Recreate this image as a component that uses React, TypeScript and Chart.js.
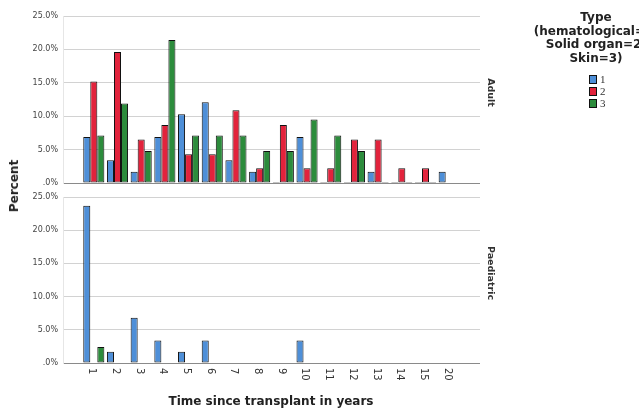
import React, { useEffect, useRef } from 'react';
import { Chart, registerables } from 'chart.js';

Chart.register(...registerables);

// ---- Data ----
const categories = ['1', '2', '3', '4', '5', '6', '7', '8', '9', '10', '11', '12', '13', '14', '15', '20'];
const seriesLabels = ['1', '2', '3'];

const adultHematological = [6.9, 3.4, 1.7, 6.9, 10.3, 12.1, 3.4, 1.7, 0, 6.9, 0, 0, 1.7, 0, 0, 1.7];
const adultSolidOrgan = [15.2, 19.6, 6.5, 8.7, 4.3, 4.3, 10.9, 2.2, 8.7, 2.2, 2.2, 6.5, 6.5, 2.2, 2.2, null];
const adultSkin = [7.1, 11.9, 4.8, 21.4, 7.1, 7.1, 7.1, 4.8, 4.8, 9.5, 7.1, 4.8, 0, 0, 0, null];

const paedHematological = [23.7, 1.7, 6.8, 3.4, 1.7, 3.4, null, null, null, 3.4, null, null, null, null, null, null];
const paedSolidOrgan = [null, null, null, null, null, null, null, null, null, null, null, null, null, null, null, null];
const paedSkin = [2.4, null, null, null, null, null, null, null, null, null, null, null, null, null, null, null];

const yTicks = [0, 5, 10, 15, 20, 25];

// ---- Styles ----
const COLORS = ['#4e8fd8', '#e2233c', '#2c8c3c'];
const BORDER = '#111111';
const W = 639;
const H = 409;
const FONT = '"DejaVu Sans", "Liberation Sans", sans-serif';

function toPoints(arr: (number | null)[]) {
  return arr.map((v, i) => ({ x: i + 1, y: v }));
}

function buildConfig(
  series: (number | null)[][],
  strip: string,
  padTop: number,
  padBottom: number,
  drawXLabels: boolean
): any {
  const plugins: any[] = [
    {
      id: 'stripLabel',
      afterDraw(chart: any) {
        const { ctx, chartArea } = chart;
        ctx.save();
        ctx.translate(490, (chartArea.top + chartArea.bottom) / 2 - 7);
        ctx.rotate(Math.PI / 2);
        ctx.font = `bold 9.5px ${FONT}`;
        ctx.fillStyle = '#333';
        ctx.textAlign = 'center';
        ctx.textBaseline = 'middle';
        ctx.fillText(strip, 0, 0);
        ctx.restore();
      },
    },
  ];
  if (drawXLabels) {
    plugins.push({
      id: 'rotatedXTicks',
      afterDraw(chart: any) {
        const { ctx, chartArea, scales } = chart;
        ctx.save();
        ctx.font = `10px ${FONT}`;
        ctx.fillStyle = '#333';
        ctx.textAlign = 'left';
        ctx.textBaseline = 'middle';
        categories.forEach((c, i) => {
          const x = scales.x.getPixelForValue(i + 1) - 2;
          ctx.save();
          ctx.translate(x, chartArea.bottom + 5);
          ctx.rotate(Math.PI / 2);
          ctx.fillText(c, 0, 0);
          ctx.restore();
        });
        ctx.restore();
      },
    });
  }
  return {
    type: 'bar',
    data: {
      datasets: series.map((s, k) => ({
        label: seriesLabels[k],
        data: toPoints(s),
        backgroundColor: COLORS[k],
        borderColor: BORDER,
        borderWidth: 1,
        borderSkipped: false,
        minBarLength: 1,
        categoryPercentage: 0.89,
        barPercentage: 1,
      })),
    },
    options: {
      responsive: false,
      animation: false,
      events: [],
      layout: { padding: { left: 0, right: W - 480, top: padTop, bottom: padBottom } },
      plugins: { legend: { display: false }, tooltip: { enabled: false }, title: { display: false } },
      scales: {
        x: {
          type: 'linear',
          min: -0.3,
          max: 17.3,
          offset: false,
          display: false,
        },
        y: {
          min: yTicks[0],
          max: yTicks[yTicks.length - 1],
          afterBuildTicks(scale: any) {
            scale.ticks = yTicks.map((v) => ({ value: v }));
          },
          afterFit(scale: any) {
            scale.width = 63;
          },
          ticks: {
            padding: 5,
            color: '#444',
            font: { family: FONT, size: 8 },
            callback: (v: number) => (v === 0 ? '.0%' : v.toFixed(1) + '%'),
          },
          grid: {
            drawTicks: false,
            color: (ctx: any) => (ctx.tick && ctx.tick.value === 0 ? '#8a8a8a' : '#d2d2d2'),
            lineWidth: 1,
          },
          border: { display: true, color: '#e6e6e6' },
        },
      },
    },
    plugins,
  };
}

export default function App() {
  const topRef = useRef<HTMLCanvasElement>(null);
  const botRef = useRef<HTMLCanvasElement>(null);

  useEffect(() => {
    const top = new Chart(
      topRef.current as HTMLCanvasElement,
      buildConfig([adultHematological, adultSolidOrgan, adultSkin], 'Adult', 16, H - 183, false)
    );
    const bot = new Chart(
      botRef.current as HTMLCanvasElement,
      buildConfig([paedHematological, paedSolidOrgan, paedSkin], 'Paediatric', 197, H - 363, true)
    );
    return () => {
      top.destroy();
      bot.destroy();
    };
  }, []);

  const canvasStyle: React.CSSProperties = { position: 'absolute', left: 0, top: 0 };
  const boldText: React.CSSProperties = {
    fontFamily: FONT,
    fontWeight: 'bold',
    fontSize: 12,
    color: '#222',
    whiteSpace: 'nowrap',
  };

  return (
    <div
      style={{
        position: 'absolute',
        left: 0,
        top: 0,
        width: W,
        height: H,
        overflow: 'hidden',
        background: '#fff',
      }}
    >
      <canvas ref={topRef} width={W} height={H} style={canvasStyle} />
      <canvas ref={botRef} width={W} height={H} style={canvasStyle} />
      <div
        style={{
          ...boldText,
          position: 'absolute',
          left: 14,
          top: 186,
          transform: 'translate(-50%, -50%) rotate(-90deg)',
        }}
      >
        Percent
      </div>
      <div
        style={{
          ...boldText,
          position: 'absolute',
          left: 271,
          top: 401,
          transform: 'translate(-50%, -50%)',
        }}
      >
        Time since transplant in years
      </div>
      <div
        style={{
          ...boldText,
          position: 'absolute',
          left: 496,
          width: 200,
          top: 11,
          textAlign: 'center',
          lineHeight: '13.5px',
        }}
      >
        <div>Type</div>
        <div>(hematological=1;</div>
        <div>Solid organ=2;</div>
        <div>Skin=3)</div>
      </div>
      {seriesLabels.map((s, k) => (
        <div
          key={s}
          style={{ position: 'absolute', left: 589, top: 74 + k * 12, height: 10, display: 'flex', alignItems: 'center' }}
        >
          <div
            style={{
              width: 6,
              height: 7,
              background: COLORS[k],
              border: `1px solid ${BORDER}`,
            }}
          />
          <span style={{ fontFamily: '"Liberation Serif", serif', fontSize: 11, color: '#333', marginLeft: 3 }}>{s}</span>
        </div>
      ))}
    </div>
  );
}
